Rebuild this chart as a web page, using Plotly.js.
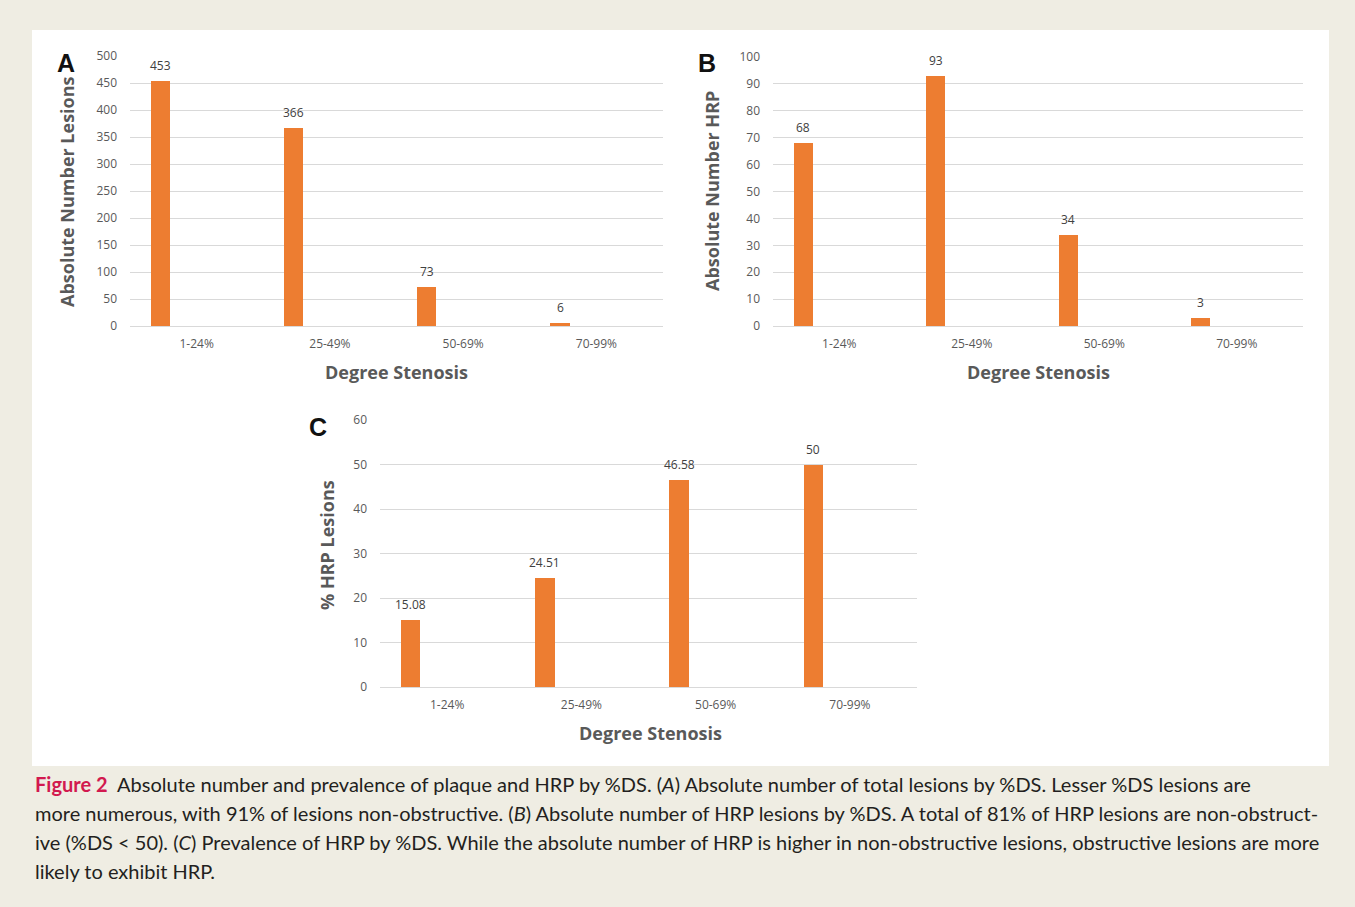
<!DOCTYPE html>
<html>
<head>
<meta charset="utf-8">
<script src="https://cdn.plot.ly/plotly-3.0.1.min.js"></script>
<style>
  html, body { margin: 0; padding: 0; background: #efede3; }
  #chart { width: 1355px; height: 907px; }
</style>
</head>
<body>
<div id="chart"></div>
<script>
// ---- data ----
const categories = ['1-24%', '25-49%', '50-69%', '70-99%'];
const lesionsA = [453, 366, 73, 6];        // Absolute Number Lesions
const hrpB = [68, 93, 34, 3];              // Absolute Number HRP
const pctHrpC = [15.08, 24.51, 46.58, 50]; // % HRP Lesions

const yTicksA = [0, 50, 100, 150, 200, 250, 300, 350, 400, 450, 500];
const yTicksB = [0, 10, 20, 30, 40, 50, 60, 70, 80, 90, 100];
const yTicksC = [0, 10, 20, 30, 40, 50, 60];

const panelLetters = ['A', 'B', 'C'];
const yTitles = ['Absolute Number Lesions', 'Absolute Number HRP', '% HRP Lesions'];
const xTitle = 'Degree Stenosis';
const captionLines = [
  '<b><span style="color:#d2194f">Figure 2</span></b>  Absolute number and prevalence of plaque and HRP by %DS. (<i>A</i>) Absolute number of total lesions by %DS. Lesser %DS lesions are',
  'more numerous, with 91% of lesions non-obstructive. (<i>B</i>) Absolute number of HRP lesions by %DS. A total of 81% of HRP lesions are non-obstruct-',
  'ive (%DS < 50). (<i>C</i>) Prevalence of HRP by %DS. While the absolute number of HRP is higher in non-obstructive lesions, obstructive lesions are more',
  'likely to exhibit HRP.'
];

// ---- style ----
const W = 1355, H = 907;
const px = v => v / W;
const py = v => 1 - v / H;
const ORANGE = '#ed7d31';
const GRID = '#d9d9d9';
const TICK = '#595959';
const BAR_OFFSET = -0.345, BAR_WIDTH = 0.145;
const FONT = 'Open Sans, sans-serif';

function barTrace(values, xa, ya) {
  return {
    type: 'bar', x: categories, y: values, xaxis: xa, yaxis: ya,
    marker: { color: ORANGE, line: { width: 0 } },
    offset: BAR_OFFSET, width: BAR_WIDTH,
    hoverinfo: 'x+y', showlegend: false
  };
}

function xAxis(domain, anchor) {
  return {
    domain: domain, anchor: anchor, type: 'category',
    categoryorder: 'array', categoryarray: categories,
    range: [-0.5, 3.5], showgrid: false, showline: false, zeroline: false,
    ticks: '', ticklabelstandoff: 9,
    tickfont: { family: FONT, size: 12, color: TICK }, fixedrange: true
  };
}
function yAxis(domain, anchor, ticks) {
  return {
    domain: domain, anchor: anchor,
    range: [ticks[0], ticks[ticks.length - 1]],
    tickmode: 'array', tickvals: ticks,
    showgrid: true, gridcolor: GRID, gridwidth: 1,
    zeroline: true, zerolinecolor: GRID, zerolinewidth: 1,
    showline: false, ticks: '', ticklabelstandoff: 12,
    tickfont: { family: FONT, size: 12, color: TICK }, fixedrange: true
  };
}

const data = [
  barTrace(lesionsA, 'x', 'y'),
  barTrace(hrpB, 'x2', 'y2'),
  barTrace(pctHrpC, 'x3', 'y3')
];

const annotations = [];
// data labels
[[lesionsA, 'x', 'y'], [hrpB, 'x2', 'y2'], [pctHrpC, 'x3', 'y3']].forEach(([vals, xa, ya]) => {
  vals.forEach((v, i) => {
    annotations.push({
      xref: xa, yref: ya, x: i + BAR_OFFSET + BAR_WIDTH / 2, y: v,
      text: String(v), showarrow: false, xanchor: 'center', yanchor: 'bottom', yshift: 5,
      font: { family: FONT, size: 12, color: '#404040' }
    });
  });
});
// panel letters
[[66, 63], [707, 63], [318, 427]].forEach(([x, y], k) => {
  annotations.push({
    xref: 'paper', yref: 'paper', x: px(x), y: py(y), text: '<b>' + panelLetters[k] + '</b>',
    showarrow: false, xanchor: 'center', yanchor: 'middle',
    font: { family: 'Liberation Sans, Arial, sans-serif', size: 25, color: '#111111' }
  });
});
// y titles
[[67, 192], [712, 191], [327, 545]].forEach(([x, y], k) => {
  annotations.push({
    xref: 'paper', yref: 'paper', x: px(x), y: py(y), text: '<b>' + yTitles[k] + '</b>',
    showarrow: false, textangle: -90, xanchor: 'center', yanchor: 'middle',
    font: { family: FONT, size: 18, color: TICK }
  });
});
// x titles
[[396, 372], [1038, 372], [650, 733]].forEach(([x, y]) => {
  annotations.push({
    xref: 'paper', yref: 'paper', x: px(x), y: py(y), text: '<b>' + xTitle + '</b>',
    showarrow: false, xanchor: 'center', yanchor: 'middle',
    font: { family: FONT, size: 18, color: TICK }
  });
});
// caption
captionLines.forEach((t, k) => {
  annotations.push({
    xref: 'paper', yref: 'paper', x: px(33), y: py(784 + 29 * k), text: t,
    showarrow: false, xanchor: 'left', yanchor: 'middle', align: 'left',
    font: { family: 'Lato, sans-serif', size: 20, color: '#231f20' }
  });
});

const layout = {
  width: W, height: H,
  margin: { l: 0, r: 0, t: 0, b: 0, pad: 0 },
  paper_bgcolor: '#efede3', plot_bgcolor: '#ffffff',
  showlegend: false, bargap: 0,
  xaxis: xAxis([px(130), px(663)], 'y'),
  yaxis: yAxis([py(326), py(56)], 'x', yTicksA),
  xaxis2: xAxis([px(773), px(1303)], 'y2'),
  yaxis2: yAxis([py(326), py(57)], 'x2', yTicksB),
  xaxis3: xAxis([px(380), px(917)], 'y3'),
  yaxis3: yAxis([py(687), py(420)], 'x3', yTicksC),
  shapes: [{
    type: 'rect', xref: 'paper', yref: 'paper', layer: 'below',
    x0: px(32), x1: px(1329), y0: py(766), y1: py(30),
    fillcolor: '#ffffff', line: { width: 0 }
  }],
  annotations: annotations
};

Plotly.newPlot('chart', data, layout, { displayModeBar: false, staticPlot: true });
</script>
</body>
</html>
